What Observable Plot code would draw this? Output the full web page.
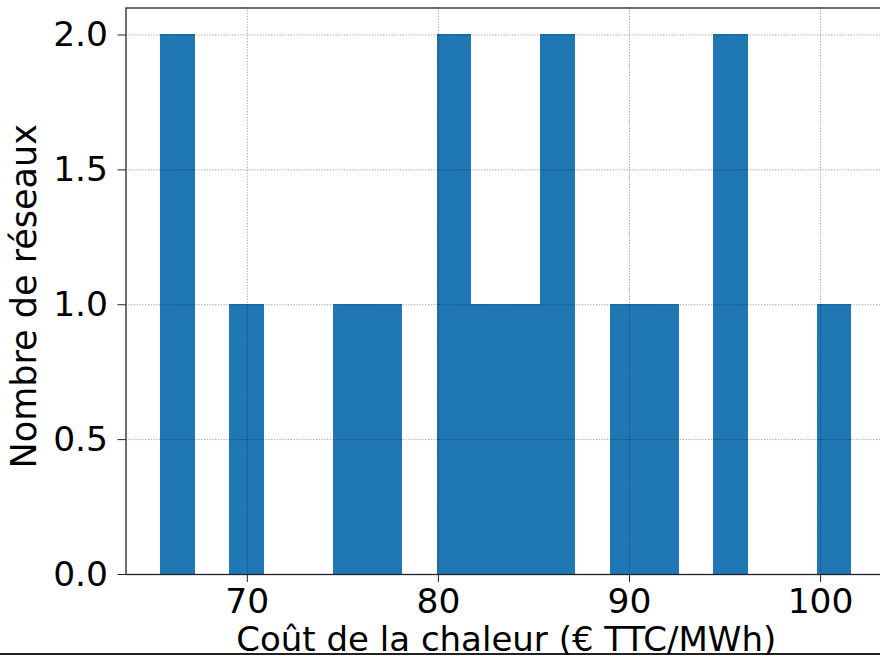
<!DOCTYPE html>
<html>
<head>
<meta charset="utf-8">
<script src="https://cdn.jsdelivr.net/npm/d3@7"></script>
<script src="https://cdn.jsdelivr.net/npm/@observablehq/plot@0.6"></script>
<style>
  html, body { margin: 0; padding: 0; background: #fff; overflow: hidden; }
  #wrap { position: relative; width: 880px; height: 657px; overflow: hidden; }
  #wrap svg { display: block; max-width: none !important; position: relative; z-index: 1; }
  #bottomline { position: absolute; left: 0; top: 653px; width: 880px; height: 2px; background: #222; z-index: 0; }
</style>
</head>
<body>
<div id="wrap"><div id="bottomline"></div></div>
<script>
// Histogram bins (edges) of heat cost, € TTC/MWh
const binEdges = [65.46, 67.27, 69.08, 70.89, 72.70, 74.51, 76.31, 78.12, 79.93, 81.74,
                  83.55, 85.36, 87.17, 88.98, 90.79, 92.60, 94.40, 96.21, 98.02, 99.83, 101.64];
// Number of networks in each bin
const counts = [2, 0, 1, 0, 0, 1, 1, 0, 2, 1, 1, 2, 0, 1, 1, 0, 2, 0, 0, 1];
const xTicks = [70, 80, 90, 100];
const yTicks = [0, 0.5, 1.0, 1.5, 2.0];
const xLabel = "Coût de la chaleur (€ TTC/MWh)";
const yLabel = "Nombre de réseaux";

const bins = counts.map((c, i) => ({x1: binEdges[i], x2: binEdges[i + 1], count: c}));
const span = binEdges[binEdges.length - 1] - binEdges[0];
const xDomain = [binEdges[0] - 0.05 * span, binEdges[binEdges.length - 1] + 0.05 * span];

const font = "DejaVu Sans, sans-serif";
const chart = Plot.plot({
  width: 886,
  height: 657,
  marginLeft: 125.5,
  marginRight: 0,
  marginTop: 7.5,
  marginBottom: 83,
  style: {fontFamily: font, color: "#000", background: "transparent", overflow: "visible", maxWidth: "none"},
  x: {domain: xDomain},
  y: {domain: [0, 2.1]},
  marks: [
    Plot.rectY(bins.filter(d => d.count > 0), {x1: "x1", x2: "x2", y1: 0, y2: "count", fill: "#1f77b4", shapeRendering: "crispEdges"}),
    Plot.gridX(xTicks, {stroke: "#000", strokeOpacity: 0.38, strokeDasharray: "1.2,1.6", strokeWidth: 1}),
    Plot.gridY(yTicks, {stroke: "#000", strokeOpacity: 0.38, strokeDasharray: "1.2,1.6", strokeWidth: 1}),
    Plot.frame({stroke: "#222", strokeWidth: 1.3}),
    Plot.axisX({ticks: xTicks, tickSize: 8, tickPadding: 6, fontSize: 34.5, label: null, stroke: "#222"}),
    Plot.axisY({ticks: yTicks, tickSize: 8, tickPadding: 10, fontSize: 34.5, label: null, tickFormat: d3.format(".1f"), stroke: "#222"}),
    Plot.text([xLabel], {frameAnchor: "bottom", text: d => d, dy: 76, lineAnchor: "bottom", fontSize: 34, fill: "#000"}),
    Plot.text([yLabel], {frameAnchor: "left", text: d => d, dx: -90.5, dy: 5, rotate: -90, textAnchor: "middle", lineAnchor: "bottom", fontSize: 35, fill: "#000"})
  ]
});
document.getElementById("wrap").prepend(chart);
</script>
</body>
</html>
